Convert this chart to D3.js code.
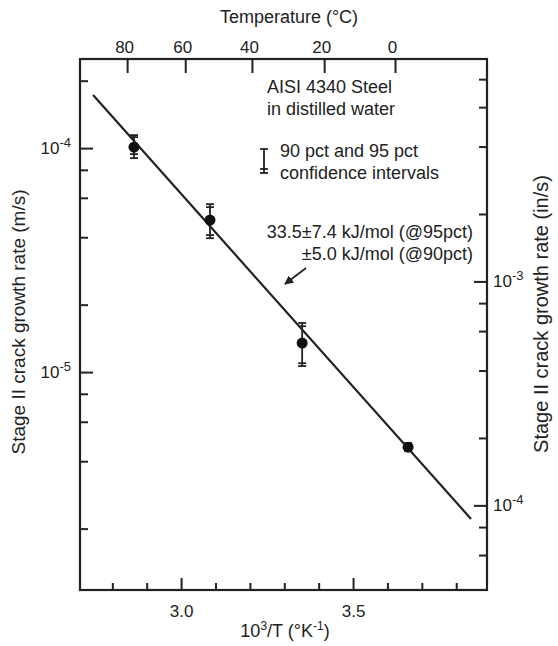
<!DOCTYPE html>
<html>
<head>
<meta charset="utf-8">
<script src="https://cdn.jsdelivr.net/npm/d3@7"></script>
<style>
  body { margin: 0; background: #fff; }
  svg text { font-family: "Liberation Sans", Arial, Helvetica, sans-serif; fill: #222; }
</style>
</head>
<body>
<svg id="viz"></svg>
<script>
const width = 558, height = 646;

// measured points: 10^3/T and stage II growth rate (m/s)
const invT   = [2.863, 3.084, 3.352, 3.660];
const rate   = [1.01e-4, 4.77e-5, 1.347e-5, 4.62e-6];
const hi95   = [1.143e-4, 5.62e-5, 1.656e-5, 4.82e-6];
const lo95   = [9.02e-5, 3.96e-5, 1.064e-5, 4.44e-6];
const hi90   = [1.12e-4, 5.45e-5, 1.603e-5, 4.76e-6];
const lo90   = [9.40e-5, 4.09e-5, 1.096e-5, 4.50e-6];

// fitted Arrhenius line end points
const fitX = [2.744, 3.843];
const fitY = [1.725e-4, 2.21e-6];

// axis ticks
const xMajor = [3.0, 3.5];
const xMinor = [2.8, 2.9, 3.1, 3.2, 3.3, 3.4, 3.6, 3.7, 3.8];
const yMajor = [1e-4, 1e-5];
const yMinor = [2e-4, 8e-5, 6e-5, 4e-5, 2e-5, 8e-6, 6e-6, 4e-6, 2e-6];
const y2Major = [1e-3, 1e-4];
const y2Minor = [8e-3, 6e-3, 4e-3, 2e-3, 8e-4, 6e-4, 4e-4, 2e-4, 8e-5, 6e-5];
const tempLabels = [80, 60, 40, 20, 0];
const tempPos = [2.843, 3.012, 3.206, 3.416, 3.622]; // where the °C ticks sit on the 10^3/T axis

const M2IN = 39.37;

const pL = 80, pR = 487, pT = 59, pB = 590;

const svg = d3.select("#viz").attr("width", width).attr("height", height);

const x = d3.scaleLinear().domain([2.706, 3.8895]).range([pL, pR]);
const y = d3.scaleLog().domain([1.064e-6, 2.5e-4]).range([pB, pT]);
const y2 = d3.scaleLog().domain([1.064e-6 * M2IN, 2.5e-4 * M2IN]).range([pB, pT]);

const ink = "#222";

function styleAxis(g) {
  g.select(".domain").remove();
  g.selectAll("line").attr("stroke", ink).attr("stroke-width", 2);
  g.selectAll("text").attr("font-size", 17).attr("fill", ink);
}

// bottom
svg.append("g").attr("transform", `translate(0,${pB})`)
  .call(d3.axisBottom(x).tickValues(xMajor).tickSize(-12).tickPadding(15).tickFormat(d3.format(".1f")))
  .call(styleAxis);
svg.append("g").attr("transform", `translate(0,${pB})`)
  .call(d3.axisBottom(x).tickValues(xMinor).tickSize(-7).tickFormat(""))
  .call(styleAxis);

// top (temperature)
const xTop = svg.append("g").attr("transform", `translate(0,${pT})`)
  .call(d3.axisTop(x).tickValues(tempPos).tickSize(-14).tickPadding(6)
        .tickFormat((d, i) => tempLabels[i]))
  .call(styleAxis);
xTop.selectAll("text").attr("dx", -3);

// left
svg.append("g").attr("transform", `translate(${pL},0)`)
  .call(d3.axisLeft(y).tickValues(yMajor).tickSize(-13).tickFormat(""))
  .call(styleAxis);
svg.append("g").attr("transform", `translate(${pL},0)`)
  .call(d3.axisLeft(y).tickValues(yMinor).tickSize(-8).tickFormat(""))
  .call(styleAxis);

// right (in/s)
svg.append("g").attr("transform", `translate(${pR},0)`)
  .call(d3.axisRight(y2).tickValues(y2Major).tickSize(-13).tickFormat(""))
  .call(styleAxis);
svg.append("g").attr("transform", `translate(${pR},0)`)
  .call(d3.axisRight(y2).tickValues(y2Minor).tickSize(-8).tickFormat(""))
  .call(styleAxis);

function powLabel(sel, v) {
  const e = Math.round(Math.log10(v));
  sel.append("tspan").text("10");
  sel.append("tspan").attr("dy", -7).attr("font-size", 13).text(e);
}

yMajor.forEach(v => {
  svg.append("text").attr("x", 71).attr("y", y(v) + 6)
    .attr("text-anchor", "end").attr("font-size", 17)
    .call(powLabel, v);
});
y2Major.forEach(v => {
  svg.append("text").attr("x", pR + 6).attr("y", y2(v) + 6)
    .attr("font-size", 17)
    .call(powLabel, v);
});

// frame
svg.append("rect").attr("x", pL).attr("y", pT)
  .attr("width", pR - pL).attr("height", pB - pT)
  .attr("fill", "none").attr("stroke", ink).attr("stroke-width", 2.2);

// axis titles
svg.append("text").attr("x", 289).attr("y", 23).attr("text-anchor", "middle")
  .attr("font-size", 18).text("Temperature (°C)");

const xt = svg.append("text").attr("x", 285).attr("y", 637).attr("text-anchor", "middle").attr("font-size", 18);
xt.append("tspan").text("10");
xt.append("tspan").attr("dy", -7).attr("font-size", 12).text("3");
xt.append("tspan").attr("dy", 7).text("/T (°K");
xt.append("tspan").attr("dy", -7).attr("font-size", 12).text("-1");
xt.append("tspan").attr("dy", 7).text(")");

svg.append("text").attr("transform", "translate(25,322) rotate(-90)")
  .attr("text-anchor", "middle").attr("font-size", 19)
  .text("Stage II crack growth rate (m/s)");
svg.append("text").attr("transform", "translate(548,314) rotate(-90)")
  .attr("text-anchor", "middle").attr("font-size", 20)
  .text("Stage II crack growth rate (in/s)");

// fit line
const fit = fitX.map((v, i) => [v, fitY[i]]);
svg.append("path").datum(fit)
  .attr("d", d3.line().x(d => x(d[0])).y(d => y(d[1])))
  .attr("stroke", ink).attr("stroke-width", 2.2).attr("fill", "none");

// error bars + points
const pts = invT.map((v, i) => ({ t: v, r: rate[i], h95: hi95[i], l95: lo95[i], h90: hi90[i], l90: lo90[i] }));
const eb = svg.append("g").attr("stroke", ink).attr("stroke-width", 1.8);
pts.forEach(d => {
  const cx = x(d.t);
  eb.append("line").attr("x1", cx).attr("x2", cx).attr("y1", y(d.h95)).attr("y2", y(d.l95));
  [d.h95, d.l95, d.h90, d.l90].forEach(v => {
    eb.append("line").attr("x1", cx - 4).attr("x2", cx + 4).attr("y1", y(v)).attr("y2", y(v));
  });
});
svg.append("g").selectAll("circle").data(pts).enter().append("circle")
  .attr("cx", d => x(d.t)).attr("cy", d => y(d.r)).attr("r", 5.5).attr("fill", "#111");

// annotations
const ann = svg.append("g").attr("font-size", 18);
ann.append("text").attr("x", 267).attr("y", 93).text("AISI 4340 Steel");
ann.append("text").attr("x", 267).attr("y", 115).text("in distilled water");
ann.append("text").attr("x", 280).attr("y", 157).text("90 pct and 95 pct");
ann.append("text").attr("x", 280).attr("y", 179).text("confidence intervals");
ann.append("text").attr("x", 473).attr("y", 238).attr("text-anchor", "end").text("33.5±7.4 kJ/mol (@95pct)");
ann.append("text").attr("x", 473).attr("y", 260).attr("text-anchor", "end").text("±5.0 kJ/mol (@90pct)");

// legend I-beam
const lg = svg.append("g").attr("stroke", ink).attr("stroke-width", 1.8);
lg.append("line").attr("x1", 264).attr("x2", 264).attr("y1", 149).attr("y2", 173);
[149, 169, 173].forEach(v => lg.append("line").attr("x1", 260).attr("x2", 268).attr("y1", v).attr("y2", v));

// arrow
svg.append("defs").append("marker").attr("id", "ah")
  .attr("viewBox", "0 0 10 10").attr("refX", 9).attr("refY", 5)
  .attr("markerWidth", 9).attr("markerHeight", 9).attr("markerUnits", "userSpaceOnUse")
  .attr("orient", "auto")
  .append("path").attr("d", "M0,0L10,5L0,10z").attr("fill", ink);
svg.append("line").attr("x1", 306).attr("y1", 268).attr("x2", 285).attr("y2", 284)
  .attr("stroke", ink).attr("stroke-width", 1.6).attr("marker-end", "url(#ah)");
</script>
</body>
</html>
